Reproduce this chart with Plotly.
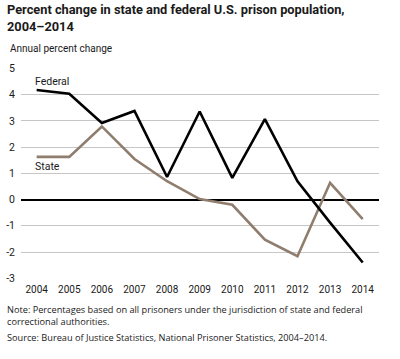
import plotly.graph_objects as go

years = [2004, 2005, 2006, 2007, 2008, 2009, 2010, 2011, 2012, 2013, 2014]
federal = [4.18, 4.04, 2.92, 3.38, 0.86, 3.36, 0.83, 3.07, 0.70, -0.88, -2.40]
state = [1.63, 1.63, 2.79, 1.55, 0.70, 0.02, -0.20, -1.53, -2.16, 0.64, -0.75]
y_ticks = [-3, -2, -1, 0, 1, 2, 3, 4, 5]
y_tick_labels = ["-3", "-2", "-1", "0", "1", "2", "3", "4", "5"]

FONT = "Roboto, Arial, sans-serif"
FONT2 = "Open Sans, Noto Sans, sans-serif"
TXT = "#1a1a1a"

fig = go.Figure()
fig.add_trace(go.Scatter(x=years, y=state, mode="lines", name="State",
                         line=dict(color="#8f7d6e", width=2.6)))
fig.add_trace(go.Scatter(x=years, y=federal, mode="lines", name="Federal",
                         line=dict(color="#000000", width=2.6)))

fig.update_layout(
    width=400, height=359,
    margin=dict(l=21, r=21, t=68, b=80),
    paper_bgcolor="white", plot_bgcolor="white",
    showlegend=False,
    font=dict(family=FONT, size=10, color=TXT),
    xaxis=dict(range=[2003.52, 2014.5], tickvals=years, showgrid=False,
               zeroline=False, showline=False, ticks="", automargin=False,
               ticklabelstandoff=3,
               tickfont=dict(family=FONT, size=10, color=TXT)),
    yaxis=dict(range=[-3.03, 5.02], tickvals=y_ticks, ticktext=y_tick_labels,
               showgrid=True, automargin=False,
               gridcolor="#c6c6c6", gridwidth=1, zeroline=True,
               zerolinecolor="#000000", zerolinewidth=1.6, ticks="",
               ticklabelstandoff=5,
               tickfont=dict(family=FONT, size=10.5, color=TXT)),
)

fig.add_annotation(text="<b>Percent change in state and federal U.S. prison population,<br>2004–2014</b>",
                   xref="paper", yref="paper", x=-0.045, y=1.0, xanchor="left", yanchor="bottom",
                   yshift=32, showarrow=False, align="left",
                   font=dict(family=FONT, size=12.8, color=TXT))
fig.add_annotation(text="Annual percent change", xref="paper", yref="paper",
                   x=-0.037, y=1.0, xanchor="left", yanchor="bottom", yshift=12,
                   showarrow=False, font=dict(family=FONT, size=10, color=TXT))
fig.add_annotation(text="Federal", x=2004, y=4.18, xanchor="left", yanchor="bottom",
                   yshift=0, xshift=-4, showarrow=False,
                   font=dict(family=FONT, size=10.5, color=TXT))
fig.add_annotation(text="State", x=2004, y=1.63, xanchor="left", yanchor="top",
                   yshift=-1, xshift=-4, showarrow=False,
                   font=dict(family=FONT, size=10.5, color=TXT))
fig.add_annotation(text="Note: Percentages based on all prisoners under the jurisdiction of state and federal<br>correctional authorities.",
                   xref="paper", yref="paper", x=-0.045, y=0, xanchor="left", yanchor="middle",
                   yshift=-36, showarrow=False, align="left",
                   font=dict(family=FONT2, size=9.2, color=TXT))
fig.add_annotation(text="Source: Bureau of Justice Statistics, National Prisoner Statistics, 2004–2014.",
                   xref="paper", yref="paper", x=-0.045, y=0, xanchor="left", yanchor="middle",
                   yshift=-58, showarrow=False, align="left",
                   font=dict(family=FONT2, size=9.2, color=TXT))

fig.write_html("out.html", config={"displayModeBar": False},
               post_script="document.body.style.margin='0';")
